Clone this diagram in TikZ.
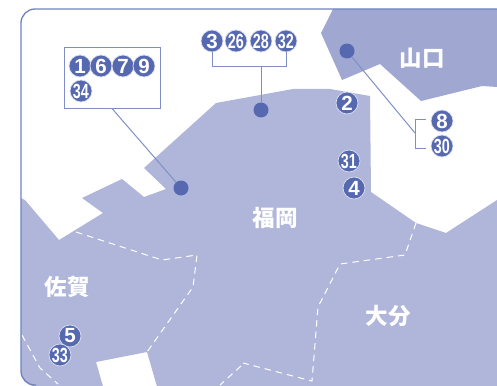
\documentclass[tikz,border=0pt]{standalone}
\usepackage{fontspec}
\usepackage{graphicx}
\setmainfont{Liberation Sans}
\newfontfamily\cjkfont{Noto Sans CJK JP Black}
\definecolor{landc}{HTML}{B0B6DA}
\definecolor{yamac}{HTML}{A0A8D2}
\definecolor{markc}{HTML}{5669B0}
\definecolor{framec}{HTML}{6F82C0}
\definecolor{linec}{HTML}{7F8FC6}
\tikzset{
  bubble/.style={circle,fill=markc,draw=white!80!markc,line width=.7pt,minimum size=22pt,inner sep=0pt,text=white,font=\fontsize{20.5}{20.5}\selectfont\bfseries},
  dot/.style={circle,fill=markc,minimum size=15pt,inner sep=0pt},
  conn/.style={draw=linec,line width=1pt},
  border/.style={draw=white,line width=1pt,dash pattern=on 6.5pt off 5pt},
  place/.style={text=white,font=\cjkfont\fontsize{22.5}{22.5}\selectfont,inner sep=0pt},
}
\newcommand{\two}[1]{\scalebox{.7}[1]{\kern-.3pt #1}}
\begin{document}
\begin{tikzpicture}[x=1pt,y=-1pt]
\useasboundingbox (0,0) rectangle (497,385);
\begin{scope}
\clip[rounded corners=14pt] (21,9) -- (21,386) -- (510,386) -- (510,9) -- cycle;
\fill[landc] (21,198) -- (25,200) -- (59,240) -- (103,213) -- (82,198) -- (122,179) -- (144,197) -- (166,189) -- (144,168) -- (216,103) -- (293,89) -- (330,89) -- (370,96) -- (371,192) -- (416,223) -- (446,233) -- (497,200) -- (497,390) -- (158,390) -- (147,352) -- (96,362) -- (104,390) -- (21,390) -- cycle;
\fill[yamac] (333,9) -- (321,33) -- (342,80) -- (380,64) -- (421,101) -- (482,86) -- (497,87) -- (497,9) -- cycle;
\draw[border] (76,232) -- (162,260) -- (197,255) -- (193,287) -- (147,352);
\draw[border] (22,335) -- (40,368) -- (58,384);
\draw[border] (416,223) -- (405,255) -- (340,264) -- (318,307) -- (312,381) -- (243,363);
\draw[border] (241,366) -- (220,385);
\end{scope}
\draw[framec,line width=1.3pt,rounded corners=14pt] (497,9) -- (21,9) -- (21,385) -- (36,385);
% numbered group on the north-west
\node[draw=linec,line width=1pt,minimum width=96pt,minimum height=60pt,inner sep=0pt] (box) at (112,78) {};
\node[dot] (mbox) at (181,188) {};
\draw[conn] (box.south) -- (mbox);
% group on the north
\coordinate (bl) at (212,67);
\coordinate (br) at (286,67);
\coordinate (bm) at (261,67);
\node[dot] (mtop) at (261,110) {};
\node[bubble] (n3) at (212,41) {3};
\node[bubble] (n26) at (236,41) {\two{26}};
\node[bubble] (n28) at (261,41) {\two{28}};
\node[bubble] (n32) at (286,41) {\two{32}};
\draw[conn] (n3.south) -- (bl) -- (br) -- (n32.south);
\draw[conn] (bm) -- (mtop);
% group on the east
\node[dot] (myama) at (347,51) {};
\coordinate (et) at (426,119);
\coordinate (ec) at (415,119);
\coordinate (em) at (415,133);
\coordinate (ed) at (415,148);
\coordinate (eb) at (426,148);
\draw[conn] (et) -- (ec) -- (ed) -- (eb);
\draw[conn] (myama) -- (em);
\node[bubble] (n8) at (442,121) {8};
\node[bubble] (n30) at (442,146) {\two{30}};
% box contents
\node[bubble] (n1) at (80,66) {1};
\node[bubble] (n6) at (101,66) {6};
\node[bubble] (n7) at (123,66) {7};
\node[bubble] (n9) at (144,66) {9};
\node[bubble] (n34) at (81,91) {\two{34}};
% single markers
\node[bubble] (n2) at (347,103) {2};
\node[bubble] (n31) at (349,161) {\two{31}};
\node[bubble] (n4) at (354,188) {4};
\node[bubble] (n5) at (70,336) {5};
\node[bubble] (n33) at (60,355) {\two{33}};
% place names
\node[place] (yama) at (422,58) {山口};
\node[place] (fuku) at (275,218) {福岡};
\node[place] (saga) at (67,287) {佐賀};
\node[place] (oita) at (388,316) {大分};
\end{tikzpicture}
\end{document}
